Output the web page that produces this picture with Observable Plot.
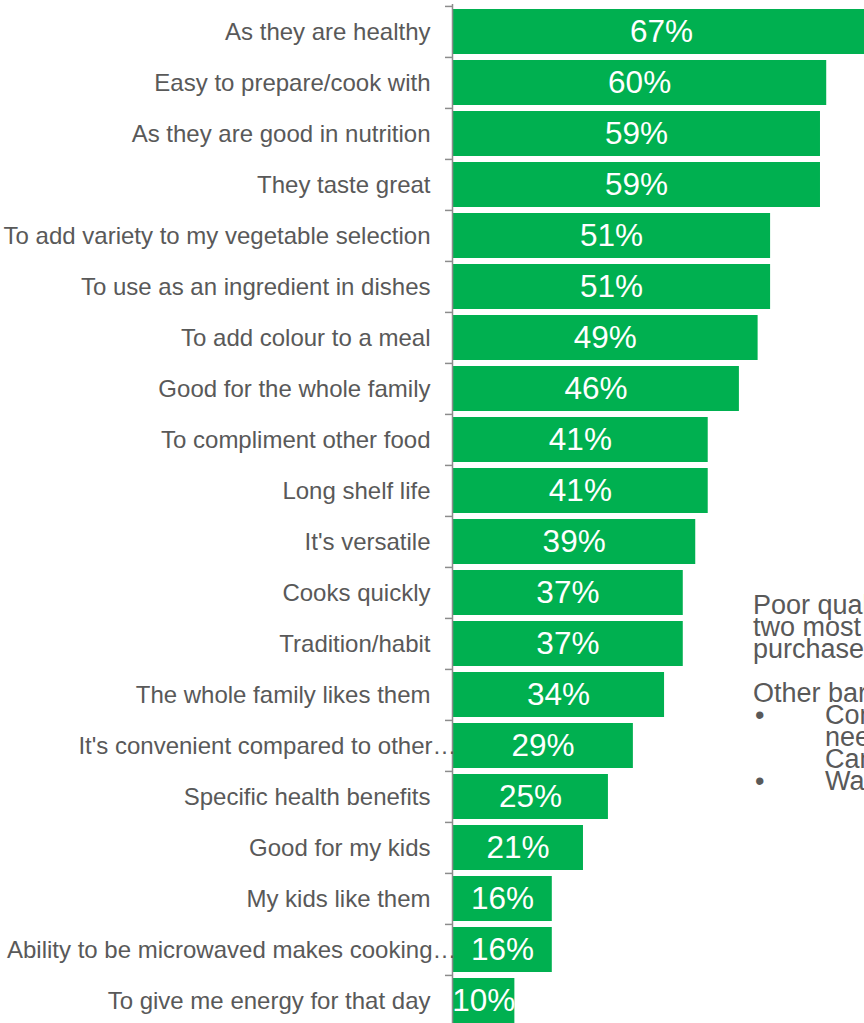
<!DOCTYPE html>
<html>
<head>
<meta charset="utf-8">
<script src="https://cdn.jsdelivr.net/npm/d3@7"></script>
<script src="https://cdn.jsdelivr.net/npm/@observablehq/plot@0.6"></script>
<style>
  html, body { margin: 0; padding: 0; overflow: hidden; background: #fff; }
  body { position: relative; width: 864px; height: 1023px; font-family: "Liberation Sans", Arial, sans-serif; }
  #chart { position: absolute; left: 0; top: 0; }
  #note { position: absolute; left: 753px; top: 594px; width: 400px; font-size: 27px; line-height: 22px; color: #595959; white-space: nowrap; }
  #note p { margin: 0; }
  #note .gap { height: 22px; }
  #note .bullet { position: relative; padding-left: 72px; }
  #note .bullet::before { content: "•"; position: absolute; left: 2px; }
  #note .cont { padding-left: 72px; }
</style>
</head>
<body>
<div id="chart"></div>
<div id="note">
  <p>Poor quality and price are the</p>
  <p>two most common barriers to</p>
  <p>purchase</p>
  <div class="gap"></div>
  <p>Other barriers</p>
  <p class="bullet">Convenience</p>
  <p class="cont">need</p>
  <p class="cont">Can</p>
  <p class="bullet">Waste</p>
</div>
<script>
const categories = [
  "As they are healthy",
  "Easy to prepare/cook with",
  "As they are good in nutrition",
  "They taste great",
  "To add variety to my vegetable selection",
  "To use as an ingredient in dishes",
  "To add colour to a meal",
  "Good for the whole family",
  "To compliment other food",
  "Long shelf life",
  "It's versatile",
  "Cooks quickly",
  "Tradition/habit",
  "The whole family likes them",
  "It's convenient compared to other…",
  "Specific health benefits",
  "Good for my kids",
  "My kids like them",
  "Ability to be microwaved makes cooking…",
  "To give me energy for that day"
];
const values = [67, 60, 59, 59, 51, 51, 49, 46, 41, 41, 39, 37, 37, 34, 29, 25, 21, 16, 16, 10];

const data = categories.map((label, i) => ({label, value: values[i]}));
const full = data.filter(d => !d.label.endsWith("…"));
const truncated = data.filter(d => d.label.endsWith("…"));

const plotTop = 4, plotBottom = 1027;
const step = (plotBottom - plotTop) / categories.length;

const chart = Plot.plot({
  width: 873,
  height: plotBottom,
  marginLeft: 452,
  marginRight: 0,
  marginTop: plotTop,
  marginBottom: 0,
  style: {fontFamily: "'Liberation Sans', Arial, sans-serif", background: "transparent", overflow: "visible", maxWidth: "none"},
  x: {domain: [0, 67.5], axis: null},
  y: {domain: categories, paddingInner: 0.12, paddingOuter: 0.06, axis: null},
  marks: [
    Plot.barX(data, {x: "value", y: "label", fill: "#00B050"}),
    Plot.ruleY(categories, {y: d => d, x1: -1.12, x2: 0, dy: -step / 2, stroke: "#8c8c8c", strokeWidth: 1.5}),
    Plot.ruleX([0], {stroke: "#8c8c8c", strokeWidth: 1.5}),
    Plot.text(full, {y: "label", text: "label", frameAnchor: "left", textAnchor: "end", dx: -22, fill: "#595959", fontSize: 24}),
    Plot.text(truncated, {y: "label", text: "label", frameAnchor: "left", textAnchor: "end", dx: 4, fill: "#595959", fontSize: 24}),
    Plot.text(data, {x: d => d.value / 2, y: "label", text: d => d.value + "%", fill: "white", fontSize: 31.5})
  ]
});
document.getElementById("chart").appendChild(chart);
</script>
</body>
</html>
